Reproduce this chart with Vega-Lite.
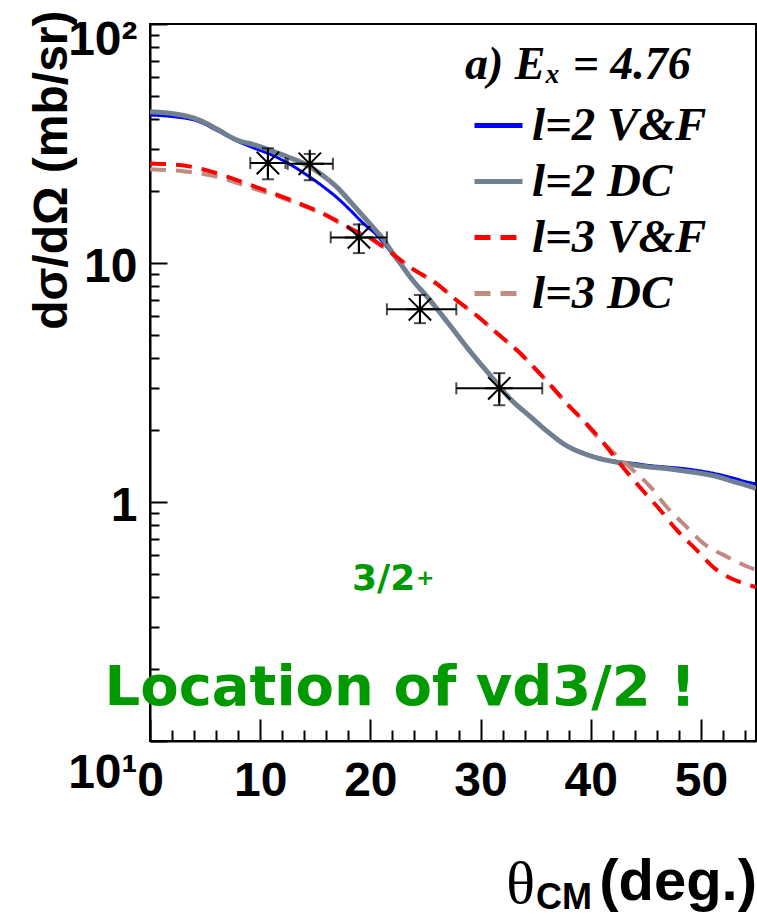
{
  "$schema": "https://vega.github.io/schema/vega-lite/v6.json",
  "width": 606,
  "height": 717,
  "autosize": {"type": "none"},
  "padding": {"left": 150, "top": 24, "right": 1, "bottom": 176},
  "background": "white",
  "config": {
    "view": {"stroke": "black", "strokeWidth": 2},
    "axis": {"grid": false, "domainColor": "black", "tickColor": "black", "domainWidth": 2, "tickWidth": 2, "labelColor": "black"}
  },
  "datasets": {
    "curves": [
      {"model": "l=2 V&F", "x": 0, "y": 41.6}, {"model": "l=2 V&F", "x": 2, "y": 41.0}, {"model": "l=2 V&F", "x": 4.5, "y": 39.0}, {"model": "l=2 V&F", "x": 6, "y": 36.0}, {"model": "l=2 V&F", "x": 7.9, "y": 32.4}, {"model": "l=2 V&F", "x": 9.5, "y": 30.2}, {"model": "l=2 V&F", "x": 11, "y": 28.4}, {"model": "l=2 V&F", "x": 12.5, "y": 26.2}, {"model": "l=2 V&F", "x": 14.5, "y": 22.9}, {"model": "l=2 V&F", "x": 15.7, "y": 20.9}, {"model": "l=2 V&F", "x": 16.9, "y": 18.9}, {"model": "l=2 V&F", "x": 18.2, "y": 16.6}, {"model": "l=2 V&F", "x": 19.4, "y": 14.6}, {"model": "l=2 V&F", "x": 20.5, "y": 13.2}, {"model": "l=2 V&F", "x": 21.8, "y": 11.2}, {"model": "l=2 V&F", "x": 22.7, "y": 9.9}, {"model": "l=2 V&F", "x": 23.6, "y": 8.7}, {"model": "l=2 V&F", "x": 25.4, "y": 7.0}, {"model": "l=2 V&F", "x": 27.2, "y": 5.5}, {"model": "l=2 V&F", "x": 29, "y": 4.3}, {"model": "l=2 V&F", "x": 30.9, "y": 3.38}, {"model": "l=2 V&F", "x": 32.7, "y": 2.7}, {"model": "l=2 V&F", "x": 34.5, "y": 2.28}, {"model": "l=2 V&F", "x": 36.2, "y": 1.96}, {"model": "l=2 V&F", "x": 37.8, "y": 1.73}, {"model": "l=2 V&F", "x": 39.3, "y": 1.61}, {"model": "l=2 V&F", "x": 40.8, "y": 1.53}, {"model": "l=2 V&F", "x": 42.3, "y": 1.48}, {"model": "l=2 V&F", "x": 43.9, "y": 1.45}, {"model": "l=2 V&F", "x": 45.4, "y": 1.42}, {"model": "l=2 V&F", "x": 46.9, "y": 1.4}, {"model": "l=2 V&F", "x": 48.4, "y": 1.38}, {"model": "l=2 V&F", "x": 49.9, "y": 1.35}, {"model": "l=2 V&F", "x": 51.4, "y": 1.31}, {"model": "l=2 V&F", "x": 52.9, "y": 1.26}, {"model": "l=2 V&F", "x": 54, "y": 1.22}, {"model": "l=2 V&F", "x": 55, "y": 1.19},
      {"model": "l=2 DC", "x": 0, "y": 42.9}, {"model": "l=2 DC", "x": 2, "y": 42.2}, {"model": "l=2 DC", "x": 4.5, "y": 39.6}, {"model": "l=2 DC", "x": 6, "y": 36.5}, {"model": "l=2 DC", "x": 7.9, "y": 32.7}, {"model": "l=2 DC", "x": 9.5, "y": 31.2}, {"model": "l=2 DC", "x": 11, "y": 29.5}, {"model": "l=2 DC", "x": 12.5, "y": 27.8}, {"model": "l=2 DC", "x": 14.5, "y": 25.3}, {"model": "l=2 DC", "x": 15.7, "y": 23.2}, {"model": "l=2 DC", "x": 16.9, "y": 20.9}, {"model": "l=2 DC", "x": 18.2, "y": 18.0}, {"model": "l=2 DC", "x": 19.4, "y": 15.6}, {"model": "l=2 DC", "x": 20.3, "y": 14.0}, {"model": "l=2 DC", "x": 21.2, "y": 12.5}, {"model": "l=2 DC", "x": 21.8, "y": 11.4}, {"model": "l=2 DC", "x": 22.7, "y": 10.0}, {"model": "l=2 DC", "x": 23.6, "y": 8.76}, {"model": "l=2 DC", "x": 25.4, "y": 7.0}, {"model": "l=2 DC", "x": 27.2, "y": 5.5}, {"model": "l=2 DC", "x": 29, "y": 4.3}, {"model": "l=2 DC", "x": 30.9, "y": 3.38}, {"model": "l=2 DC", "x": 32.7, "y": 2.7}, {"model": "l=2 DC", "x": 34.5, "y": 2.28}, {"model": "l=2 DC", "x": 36.2, "y": 1.95}, {"model": "l=2 DC", "x": 37.8, "y": 1.72}, {"model": "l=2 DC", "x": 39.3, "y": 1.6}, {"model": "l=2 DC", "x": 40.8, "y": 1.52}, {"model": "l=2 DC", "x": 42.3, "y": 1.47}, {"model": "l=2 DC", "x": 43.9, "y": 1.43}, {"model": "l=2 DC", "x": 45.4, "y": 1.4}, {"model": "l=2 DC", "x": 46.9, "y": 1.38}, {"model": "l=2 DC", "x": 48.4, "y": 1.35}, {"model": "l=2 DC", "x": 49.9, "y": 1.32}, {"model": "l=2 DC", "x": 51.4, "y": 1.28}, {"model": "l=2 DC", "x": 52.9, "y": 1.22}, {"model": "l=2 DC", "x": 54, "y": 1.18}, {"model": "l=2 DC", "x": 55, "y": 1.14},
      {"model": "l=3 V&F", "x": 0, "y": 26.1}, {"model": "l=3 V&F", "x": 2.7, "y": 25.7}, {"model": "l=3 V&F", "x": 6, "y": 23.8}, {"model": "l=3 V&F", "x": 9, "y": 21.3}, {"model": "l=3 V&F", "x": 12.7, "y": 18.4}, {"model": "l=3 V&F", "x": 15.7, "y": 16.1}, {"model": "l=3 V&F", "x": 18.8, "y": 13.5}, {"model": "l=3 V&F", "x": 20, "y": 12.7}, {"model": "l=3 V&F", "x": 21.8, "y": 11.1}, {"model": "l=3 V&F", "x": 23.6, "y": 9.6}, {"model": "l=3 V&F", "x": 26, "y": 8.2}, {"model": "l=3 V&F", "x": 27.8, "y": 7.0}, {"model": "l=3 V&F", "x": 29.7, "y": 6.0}, {"model": "l=3 V&F", "x": 31.5, "y": 5.08}, {"model": "l=3 V&F", "x": 33.6, "y": 4.19}, {"model": "l=3 V&F", "x": 34.8, "y": 3.68}, {"model": "l=3 V&F", "x": 36.3, "y": 3.1}, {"model": "l=3 V&F", "x": 37.8, "y": 2.59}, {"model": "l=3 V&F", "x": 39.3, "y": 2.2}, {"model": "l=3 V&F", "x": 40.8, "y": 1.85}, {"model": "l=3 V&F", "x": 42.9, "y": 1.4}, {"model": "l=3 V&F", "x": 44.7, "y": 1.12}, {"model": "l=3 V&F", "x": 46.3, "y": 0.926}, {"model": "l=3 V&F", "x": 47.8, "y": 0.764}, {"model": "l=3 V&F", "x": 49.6, "y": 0.63}, {"model": "l=3 V&F", "x": 51.1, "y": 0.535}, {"model": "l=3 V&F", "x": 52.3, "y": 0.49}, {"model": "l=3 V&F", "x": 53.5, "y": 0.463}, {"model": "l=3 V&F", "x": 55, "y": 0.441},
      {"model": "l=3 DC", "x": 0, "y": 24.7}, {"model": "l=3 DC", "x": 3, "y": 24.2}, {"model": "l=3 DC", "x": 6, "y": 23.0}, {"model": "l=3 DC", "x": 9, "y": 20.8}, {"model": "l=3 DC", "x": 12.7, "y": 18.2}, {"model": "l=3 DC", "x": 15.7, "y": 16.0}, {"model": "l=3 DC", "x": 18.8, "y": 13.4}, {"model": "l=3 DC", "x": 20, "y": 12.7}, {"model": "l=3 DC", "x": 21.8, "y": 11.1}, {"model": "l=3 DC", "x": 23.6, "y": 9.6}, {"model": "l=3 DC", "x": 26, "y": 8.2}, {"model": "l=3 DC", "x": 27.8, "y": 7.0}, {"model": "l=3 DC", "x": 29.7, "y": 6.0}, {"model": "l=3 DC", "x": 31.5, "y": 5.08}, {"model": "l=3 DC", "x": 33.6, "y": 4.19}, {"model": "l=3 DC", "x": 34.8, "y": 3.68}, {"model": "l=3 DC", "x": 36.3, "y": 3.1}, {"model": "l=3 DC", "x": 37.8, "y": 2.59}, {"model": "l=3 DC", "x": 39.3, "y": 2.19}, {"model": "l=3 DC", "x": 40.8, "y": 1.83}, {"model": "l=3 DC", "x": 42.2, "y": 1.59}, {"model": "l=3 DC", "x": 43.6, "y": 1.39}, {"model": "l=3 DC", "x": 45.4, "y": 1.16}, {"model": "l=3 DC", "x": 46.9, "y": 0.953}, {"model": "l=3 DC", "x": 48.7, "y": 0.786}, {"model": "l=3 DC", "x": 50.2, "y": 0.673}, {"model": "l=3 DC", "x": 52.4, "y": 0.589}, {"model": "l=3 DC", "x": 53.7, "y": 0.55}, {"model": "l=3 DC", "x": 55, "y": 0.519}
    ],
    "points": [
      {"x": 10.7, "y": 26.2, "xlo": 9.1, "xhi": 12.3, "ylo": 22.4, "yhi": 30.2},
      {"x": 14.5, "y": 26.0, "xlo": 12.5, "xhi": 16.6, "ylo": 22.2, "yhi": 28.6},
      {"x": 18.96, "y": 12.8, "xlo": 16.4, "xhi": 21.5, "ylo": 11.0, "yhi": 14.5},
      {"x": 24.5, "y": 6.4, "xlo": 21.5, "xhi": 27.8, "ylo": 5.6, "yhi": 7.35},
      {"x": 31.7, "y": 2.99, "xlo": 27.8, "xhi": 35.6, "ylo": 2.54, "yhi": 3.46}
    ]
  },
  "resolve": {"axis": {"x": "independent", "y": "independent"}},
  "layer": [
    {
      "layer": [
        {
          "data": {"name": "curves"},
          "transform": [{"filter": "datum.model == 'l=2 V&F'"}],
          "mark": {"type": "line", "interpolate": "monotone", "strokeWidth": 3, "clip": true},
          "encoding": {
            "x": {"field": "x", "type": "quantitative", "title": null, "scale": {"type": "linear", "domain": [0, 55], "nice": false, "zero": false},
              "axis": {"orient": "bottom", "values": [0, 10, 20, 30, 40, 50], "tickSize": -22, "labelFont": "Liberation Sans", "labelFontWeight": "bold", "labelFontSize": 48, "labelPadding": 38, "labelFlush": false, "labelOverlap": false, "title": null}},
            "y": {"field": "y", "type": "quantitative", "title": "dσ/dΩ (mb/sr)", "scale": {"type": "log", "domain": [0.1, 100], "nice": false},
              "axis": {"orient": "left", "values": [0.1, 1, 10, 100], "tickSize": -17, "labelFont": "Liberation Sans", "labelFontWeight": "bold", "labelFontSize": 48, "labelPadding": 30, "labelFlush": false, "labelOverlap": false,
                "labelExpr": "datum.value >= 99 ? '10²' : datum.value >= 9 ? '10' : datum.value >= 0.9 ? '1' : '10¹'",
                "labelOffset": {"condition": [{"test": "datum.value >= 99", "value": 16}, {"test": "datum.value < 0.5", "value": 32}], "value": 4},
                "title": "dσ/dΩ (mb/sr)", "titleFont": "Liberation Sans", "titleFontWeight": "bold", "titleFontSize": 48, "titleColor": "black",
                "titleAngle": -90, "titleAlign": "right", "titleBaseline": "alphabetic", "titleX": -84, "titleY": -14}},
            "color": {"field": "model", "type": "nominal",
              "scale": {"domain": ["l=2 V&F", "l=2 DC", "l=3 V&F", "l=3 DC"], "range": ["#0000ff", "#708090", "#ff0000", "#c08a80"]},
              "legend": {"orient": "none", "legendX": 315, "legendY": 19, "title": "a) Eₓ = 4.76", "padding": 0,
                "titleFont": "Liberation Serif", "titleFontStyle": "italic", "titleFontWeight": "bold", "titleFontSize": 46, "titleColor": "black", "titlePadding": 10, "titleLimit": 500,
                "labelFont": "Liberation Serif", "labelFontStyle": "italic", "labelFontWeight": "bold", "labelFontSize": 47, "labelColor": "black", "labelLimit": 500, "labelOffset": 7,
                "symbolType": "stroke", "symbolSize": 2304, "symbolStrokeWidth": 5, "symbolOffset": 7, "rowPadding": 6}},
            "strokeDash": {"field": "model", "type": "nominal",
              "scale": {"domain": ["l=2 V&F", "l=2 DC", "l=3 V&F", "l=3 DC"], "range": [[1, 0], [1, 0], [16, 10], [16, 10]]}}
          }
        },
        {
          "data": {"name": "curves"},
          "transform": [{"filter": "datum.model == 'l=2 DC'"}],
          "mark": {"type": "line", "interpolate": "monotone", "strokeWidth": 5, "clip": true},
          "encoding": {
            "x": {"field": "x", "type": "quantitative", "title": null},
            "y": {"field": "y", "type": "quantitative", "title": "dσ/dΩ (mb/sr)"},
            "color": {"field": "model", "type": "nominal"},
            "strokeDash": {"field": "model", "type": "nominal"}
          }
        },
        {
          "data": {"name": "curves"},
          "transform": [{"filter": "datum.model == 'l=3 DC'"}],
          "mark": {"type": "line", "interpolate": "monotone", "strokeWidth": 4, "clip": true},
          "encoding": {
            "x": {"field": "x", "type": "quantitative", "title": null},
            "y": {"field": "y", "type": "quantitative", "title": "dσ/dΩ (mb/sr)"},
            "color": {"field": "model", "type": "nominal"},
            "strokeDash": {"field": "model", "type": "nominal"}
          }
        },
        {
          "data": {"name": "curves"},
          "transform": [{"filter": "datum.model == 'l=3 V&F'"}],
          "mark": {"type": "line", "interpolate": "monotone", "strokeWidth": 4, "clip": true},
          "encoding": {
            "x": {"field": "x", "type": "quantitative", "title": null},
            "y": {"field": "y", "type": "quantitative", "title": "dσ/dΩ (mb/sr)"},
            "color": {"field": "model", "type": "nominal"},
            "strokeDash": {"field": "model", "type": "nominal"}
          }
        },
        {
          "data": {"name": "points"},
          "mark": {"type": "errorbar", "color": "black", "ticks": {"size": 12, "thickness": 2}, "rule": {"strokeWidth": 2}},
          "encoding": {
            "x": {"field": "xlo", "type": "quantitative", "title": null},
            "x2": {"field": "xhi"},
            "y": {"field": "y", "type": "quantitative", "title": "dσ/dΩ (mb/sr)"}
          }
        },
        {
          "data": {"name": "points"},
          "mark": {"type": "errorbar", "color": "black", "ticks": {"size": 12, "thickness": 2}, "rule": {"strokeWidth": 2}},
          "encoding": {
            "y": {"field": "ylo", "type": "quantitative", "title": "dσ/dΩ (mb/sr)"},
            "y2": {"field": "yhi"},
            "x": {"field": "x", "type": "quantitative", "title": null}
          }
        },
        {
          "data": {"values": [{}]},
          "mark": {"type": "text", "text": "Location of vd3/2 !", "font": "DejaVu Sans", "fontWeight": "bold", "fontSize": 56, "color": "#009a00", "align": "center", "baseline": "alphabetic"},
          "encoding": {"x": {"datum": 22.7}, "y": {"datum": 0.1415}}
        },
        {
          "data": {"values": [{}]},
          "mark": {"type": "text", "text": "3/2", "font": "DejaVu Sans", "fontWeight": "bold", "fontSize": 36, "color": "#009a00", "align": "left", "baseline": "alphabetic"},
          "encoding": {"x": {"datum": 18.33}, "y": {"datum": 0.4285}}
        },
        {
          "data": {"values": [{}]},
          "mark": {"type": "text", "text": "+", "font": "DejaVu Sans", "fontWeight": "bold", "fontSize": 22, "color": "#009a00", "align": "left", "baseline": "alphabetic"},
          "encoding": {"x": {"datum": 24.14}, "y": {"datum": 0.4497}}
        },
        {
          "data": {"values": [{}]},
          "mark": {"type": "text", "text": "(deg.)", "font": "Liberation Sans", "fontWeight": "bold", "fontSize": 58, "color": "black", "align": "right", "baseline": "alphabetic", "dx": 1, "dy": 159},
          "encoding": {"x": {"datum": 55}, "y": {"datum": 0.1}}
        },
        {
          "data": {"values": [{}]},
          "mark": {"type": "text", "text": "CM", "font": "Liberation Sans", "fontWeight": "bold", "fontSize": 36, "color": "black", "align": "right", "baseline": "alphabetic", "dx": -164, "dy": 168},
          "encoding": {"x": {"datum": 55}, "y": {"datum": 0.1}}
        },
        {
          "data": {"values": [{}]},
          "mark": {"type": "text", "text": "θ", "font": "Liberation Serif", "fontSize": 60, "color": "black", "align": "right", "baseline": "alphabetic", "dx": -221, "dy": 162},
          "encoding": {"x": {"datum": 55}, "y": {"datum": 0.1}}
        }
      ]
    },
    {
      "data": {"name": "points"},
      "mark": {"type": "point", "shape": "M-1,0L1,0M0,-1L0,1M-0.8,-0.8L0.8,0.8M-0.8,0.8L0.8,-0.8", "size": 784, "stroke": "black", "strokeWidth": 2, "filled": false, "opacity": 1},
      "encoding": {
        "x": {"field": "x", "type": "quantitative", "title": null, "scale": {"type": "linear", "domain": [0, 55], "nice": false, "zero": false},
          "axis": {"orient": "bottom", "values": [2, 4, 6, 8, 12, 14, 16, 18, 22, 24, 26, 28, 32, 34, 36, 38, 42, 44, 46, 48, 52, 54], "tickSize": -11, "labels": false, "domain": false, "title": null, "grid": false}},
        "y": {"field": "y", "type": "quantitative", "title": null, "scale": {"type": "log", "domain": [0.1, 100], "nice": false},
          "axis": {"orient": "left", "values": [0.2, 0.3, 0.4, 0.5, 0.6, 0.7, 0.8, 0.9, 2, 3, 4, 5, 6, 7, 8, 9, 20, 30, 40, 50, 60, 70, 80, 90], "tickSize": -9, "labels": false, "domain": false, "title": null, "grid": false}}
      }
    }
  ]
}
